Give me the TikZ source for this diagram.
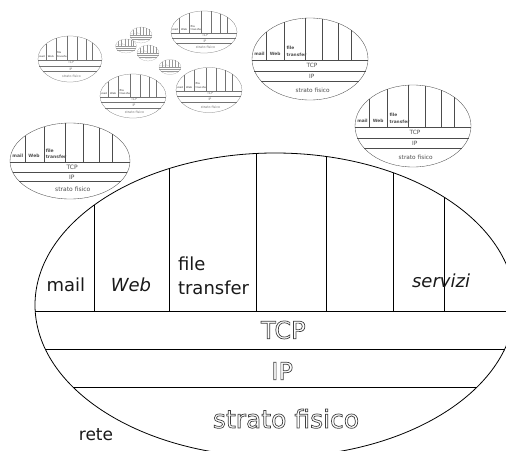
\documentclass[tikz,border=0pt]{standalone}
\usepackage{fontspec}
\setmainfont{DejaVu Sans}
\newcommand\outl[1]{\special{pdf:literal direct 1 Tr 0.7 w}#1\special{pdf:literal direct 0 Tr}}
\tikzset{
  lbl/.style={inner sep=0pt, outer sep=0pt},
  bigline/.style={line width=0.8pt, draw=black},
  smallline/.style 2 args={line width=#1, draw=black!#2},
}
% ellipse and its layer lines, in a frame where the ellipse is the unit circle
\newcommand\stackframe{%
  \draw (0,0) ellipse [x radius=1, y radius=1];
  \foreach \u in {-0.754,-0.438,-0.079,0.2125,0.492,0.704}{\draw (\u,{-sqrt(1-\u*\u)}) -- (\u,0.039);}
  \foreach \w in {0.039,0.289,0.539}{\draw ({-sqrt(1-\w*\w)},\w) -- ({sqrt(1-\w*\w)},\w);}
}
% a small copy: name, cx, cy, rx, ry, line width, line darkness
\newcommand\ministack[7]{%
  \begin{scope}[shift={(#2,#3)}, xscale=#4, yscale=#5, every path/.style={smallline={#6}{#7}}]
    \stackframe
    \pgfmathsetmacro\sc{#4/240}
    \edef\fsA{\fpeval{18*\sc}}\edef\fsC{\fpeval{24*\sc}}
    \begin{scope}[every node/.style={lbl, text=black!#7}]
      \node[anchor=base, font=\fontsize{\fsA}{\fsA}\selectfont\bfseries] (#1-mail) at (-0.871,-0.086) {mail};
      \node[anchor=base, font=\fontsize{\fsA}{\fsA}\selectfont\bfseries] (#1-web) at (-0.6,-0.086) {Web};
      \node[anchor=base west, font=\fontsize{\fsA}{\fsA}\selectfont\bfseries] (#1-file) at (-0.404,-0.226) {file};
      \node[anchor=base west, font=\fontsize{\fsA}{\fsA}\selectfont\bfseries] (#1-transfer) at (-0.404,-0.072) {transfer};
      \node[font=\fontsize{\fsC}{\fsC}\selectfont] (#1-tcp) at (0.035,0.164) {TCP};
      \node[font=\fontsize{\fsC}{\fsC}\selectfont] (#1-ip) at (0.03,0.434) {IP};
      \node[anchor=base, font=\fontsize{\fsC}{\fsC}\selectfont] (#1-phys) at (0.046,0.809) {strato fisico};
    \end{scope}
  \end{scope}}
\begin{document}
\begin{tikzpicture}[x=1pt, y=-1pt]
  \useasboundingbox (0,0) rectangle (506,450);
  \clip (0,0) rectangle (506,450);
  % big stack
  \begin{scope}[shift={(275,305)}, xscale=240, yscale=152, every path/.style={bigline}]
    \stackframe
    \begin{scope}[every node/.style={lbl, text=black!90}]
      \node[anchor=base, font=\fontsize{18}{18}\selectfont] (big-mail) at (-0.871,-0.086) {mail};
      \node[anchor=base, font=\fontsize{18}{18}\selectfont\itshape] (big-web) at (-0.6,-0.086) {Web};
      \node[anchor=base west, font=\fontsize{18}{18}\selectfont] (big-file) at (-0.404,-0.226) {file};
      \node[anchor=base west, font=\fontsize{18}{18}\selectfont] (big-transfer) at (-0.404,-0.072) {transfer};
      \node[anchor=base, font=\fontsize{18}{18}\selectfont\itshape] (big-servizi) at (0.692,-0.114) {servizi};
    \end{scope}
    \begin{scope}[every node/.style={lbl, text=black!75}]
      \node[font=\fontsize{24}{24}\selectfont] (big-tcp) at (0.035,0.164) {\outl{TCP}};
      \node[font=\fontsize{24}{24}\selectfont] (big-ip) at (0.03,0.434) {\outl{IP}};
      \node[anchor=base, font=\fontsize{25}{25}\selectfont] (big-phys) at (0.046,0.809) {\outl{strato fisico}};
    \end{scope}
  \end{scope}
  \node[lbl, anchor=base, font=\fontsize{17}{17}\selectfont, text=black!90] (rete) at (96,440) {rete};
  % small copies
  \ministack{cI}{310}{59}{58}{41}{0.35pt}{70}
  \ministack{cJ}{413}{126}{58}{41}{0.35pt}{70}
  \ministack{cK}{70}{161}{60}{38}{0.35pt}{70}
  \ministack{cA}{70}{59}{32}{23}{0.25pt}{55}
  \ministack{cB}{204}{32}{33}{21}{0.25pt}{55}
  \ministack{cC}{133}{96}{33}{22}{0.25pt}{55}
  \ministack{cD}{209}{90}{33}{22.5}{0.25pt}{55}
  \ministack{cE}{141}{35}{11}{8}{0.15pt}{40}
  \ministack{cF}{126}{46}{10.5}{7}{0.15pt}{40}
  \ministack{cG}{148}{53}{11}{8}{0.15pt}{40}
  \ministack{cH}{170}{67}{11}{7.5}{0.15pt}{40}
\end{tikzpicture}
\end{document}
